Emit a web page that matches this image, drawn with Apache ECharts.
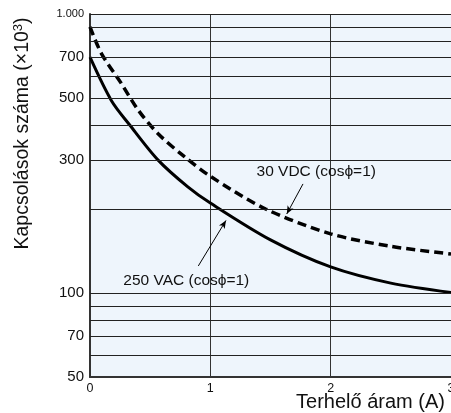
<!DOCTYPE html>
<html>
<head>
<meta charset="utf-8">
<script src="https://cdn.jsdelivr.net/npm/echarts@6/dist/echarts.min.js"></script>
<style>
  html, body { margin: 0; padding: 0; background: #fff; }
  #chart { width: 451px; height: 413px; }
</style>
</head>
<body>
<div id="chart"></div>
<script>
// load current (A) vs. number of operations (x10^3)
const acCurrent = [0, 0.177, 0.33, 0.564, 0.813, 1.0, 1.5, 2.0, 2.5, 3.0]
const acOps     = [700, 490, 400, 300, 240, 210, 155, 124, 108.5, 100.5]
const dcCurrent = [0, 0.094, 0.26, 0.40, 0.564, 0.785, 1.0, 1.46, 2.0, 2.5, 3.0]
const dcOps     = [900, 723, 564, 453, 373, 308, 262, 200, 163, 147, 138]

const yLabelValues = [50, 70, 100, 300, 500, 700, 1000]
const yGridValues  = [60, 70, 80, 90, 100, 200, 300, 400, 500, 600, 700, 800, 900, 1000]

// annotation texts and arrows (data coords)
const acLabel = { text: '250 VAC (cosϕ=1)', at: [0.8, 111] }
const dcLabel = { text: '30 VDC (cosϕ=1)', at: [1.88, 271] }
const acArrow = [[0.90, 125], [1.13, 182]]
const dcArrow = [[1.77, 246], [1.635, 192]]

const FONT = 'Liberation Sans, Arial, sans-serif'

const chart = echarts.init(document.getElementById('chart'))

chart.setOption({
  animation: false,
  grid: {
    left: 90, right: 0, top: 14, bottom: 36,
    outerBoundsMode: 'none',
    containLabel: false,
    show: true, backgroundColor: '#eef5fc', borderWidth: 0
  },
  xAxis: {
    type: 'value',
    min: 0, max: 3, interval: 1,
    name: 'Terhelő áram (A)',
    nameLocation: 'end',
    nameGap: -6,
    nameMoveOverlap: false,
    nameTextStyle: {
      fontFamily: FONT, fontSize: 20, color: '#111',
      align: 'right', verticalAlign: 'top', padding: [15, 0, 0, 0]
    },
    axisLine: { lineStyle: { color: '#333', width: 2 } },
    axisTick: { show: false },
    axisLabel: { fontFamily: FONT, fontSize: 12.5, color: '#111', margin: 5 },
    splitLine: { show: true, lineStyle: { color: '#333', width: 1 } }
  },
  yAxis: {
    type: 'log',
    logBase: 10,
    min: 50, max: 1000,
    name: 'Kapcsolások száma (×10{sup|3})',
    nameLocation: 'middle',
    nameGap: 57,
    nameTextStyle: {
      fontFamily: FONT, fontSize: 19.5, color: '#111',
      padding: [0, 0, 0, 124],
      rich: { sup: { fontFamily: FONT, fontSize: 13, color: '#111', verticalAlign: 'top', padding: [0, 0, 8, 0] } }
    },
    axisLine: { show: true, lineStyle: { color: '#333', width: 2 } },
    axisTick: { show: false },
    splitLine: { show: false },
    minorSplitLine: { show: false },
    axisLabel: {
      customValues: yLabelValues,
      fontFamily: FONT, fontSize: 15, color: '#111', margin: 6,
      formatter: v => v >= 1000 ? '{s|1.000}' : String(v),
      rich: { s: { fontFamily: FONT, fontSize: 11, color: '#111' } }
    }
  },
  series: [
    {
      name: 'grid',
      type: 'line',
      data: [],
      silent: true,
      markLine: {
        silent: true,
        symbol: ['none', 'none'],
        label: { show: false },
        lineStyle: { color: '#222', width: 1, type: 'solid' },
        data: yGridValues.map(v => ({ yAxis: v }))
      }
    },
    {
      name: '250 VAC',
      type: 'line',
      smooth: 0.3,
      showSymbol: false,
      data: acCurrent.map((x, i) => [x, acOps[i]]),
      lineStyle: { color: '#000', width: 3 },
      markPoint: {
        symbol: 'circle', symbolSize: 0,
        label: { show: true, formatter: acLabel.text, fontFamily: FONT, fontSize: 15.5, color: '#111' },
        data: [{ coord: acLabel.at }]
      },
      markLine: {
        silent: true,
        symbol: ['none', 'arrow'], symbolSize: [5, 8],
        label: { show: false },
        lineStyle: { color: '#000', width: 1, type: 'solid' },
        data: [[{ coord: acArrow[0] }, { coord: acArrow[1] }]]
      }
    },
    {
      name: '30 VDC',
      type: 'line',
      smooth: 0.3,
      showSymbol: false,
      data: dcCurrent.map((x, i) => [x, dcOps[i]]),
      lineStyle: { color: '#000', width: 3.5, type: [9, 5] },
      markPoint: {
        symbol: 'circle', symbolSize: 0,
        label: { show: true, formatter: dcLabel.text, fontFamily: FONT, fontSize: 15.5, color: '#111' },
        data: [{ coord: dcLabel.at }]
      },
      markLine: {
        silent: true,
        symbol: ['none', 'arrow'], symbolSize: [5, 8],
        label: { show: false },
        lineStyle: { color: '#000', width: 1, type: 'solid' },
        data: [[{ coord: dcArrow[0] }, { coord: dcArrow[1] }]]
      }
    }
  ]
})
</script>
</body>
</html>
